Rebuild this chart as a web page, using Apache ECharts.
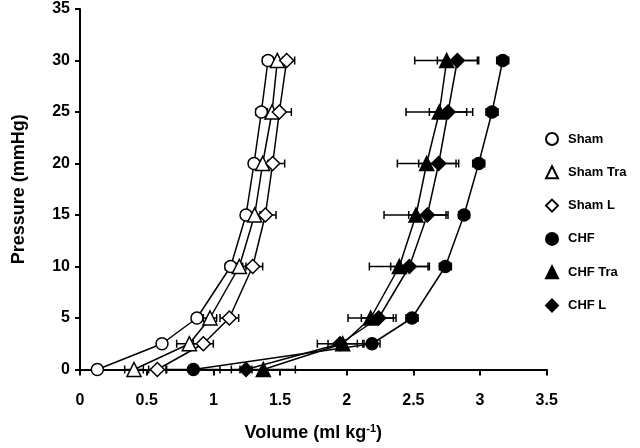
<!DOCTYPE html>
<html>
<head>
<meta charset="utf-8">
<script src="https://cdn.jsdelivr.net/npm/echarts@6/dist/echarts.min.js"></script>
<style>
html,body{margin:0;padding:0;background:#fff;}
#chart{width:640px;height:448px;}
</style>
</head>
<body>
<div id="chart"></div>
<script>
// Pressure levels (mmHg)
var pressure = [0, 2.5, 5, 10, 15, 20, 25, 30];
// Volume (ml kg-1) per series
var shamVol    = [0.13, 0.615, 0.877, 1.13, 1.245, 1.305, 1.36, 1.41];
var shamTraVol = [0.405, 0.82, 0.975, 1.195, 1.31, 1.37, 1.44, 1.48];
var shamLVol   = [0.58, 0.925, 1.12, 1.295, 1.39, 1.445, 1.495, 1.55];
var chfVol     = [0.85, 2.19, 2.49, 2.74, 2.88, 2.99, 3.09, 3.17];
var chfTraVol  = [1.375, 1.97, 2.18, 2.395, 2.52, 2.6, 2.695, 2.75];
var chfLVol    = [1.245, 1.95, 2.24, 2.47, 2.605, 2.69, 2.76, 2.83];
// SEM (horizontal error, ml kg-1)
var shamErr    = [0, 0, 0.03, 0.04, 0.035, 0.035, 0.04, 0.04];
var shamTraErr = [0.07, 0.095, 0.05, 0.05, 0.04, 0.04, 0.04, 0.04];
var shamLErr   = [0.065, 0.075, 0.07, 0.075, 0.08, 0.09, 0.09, 0.06];
var chfErr     = [0.2, 0.06, 0.045, 0.045, 0.04, 0.045, 0.045, 0.045];
var chfTraErr  = [0.24, 0.11, 0.17, 0.225, 0.24, 0.22, 0.25, 0.24];
var chfLErr    = [0.045, 0.17, 0.13, 0.14, 0.14, 0.15, 0.14, 0.15];

var seriesNames = ['Sham', 'Sham Tra', 'Sham L', 'CHF', 'CHF Tra', 'CHF L'];
var xTicks = [0, 0.5, 1, 1.5, 2, 2.5, 3, 3.5];

var groups = [
  {name: seriesNames[0], vol: shamVol, err: shamErr, symbol: 'circle', filled: false, size: 12},
  {name: seriesNames[1], vol: shamTraVol, err: shamTraErr, symbol: 'triangle', filled: false, size: 14},
  {name: seriesNames[2], vol: shamLVol, err: shamLErr, symbol: 'diamond', filled: false, size: 14},
  {name: seriesNames[3], vol: chfVol, err: chfErr, symbol: 'circle', filled: true, size: 12},
  {name: seriesNames[4], vol: chfTraVol, err: chfTraErr, symbol: 'triangle', filled: true, size: 14},
  {name: seriesNames[5], vol: chfLVol, err: chfLErr, symbol: 'diamond', filled: true, size: 14}
];

var FONT = '"Liberation Sans", Arial, Helvetica, sans-serif';

function errRender(params, api) {
  var x = api.value(0), y = api.value(1), e = api.value(2);
  if (!e) return null;
  var p1 = api.coord([x - e, y]);
  var p2 = api.coord([x + e, y]);
  var h = 4;
  var st = {stroke: '#000', lineWidth: 1.5};
  return {
    type: 'group',
    children: [
      {type: 'line', shape: {x1: p1[0], y1: p1[1], x2: p2[0], y2: p2[1]}, style: st},
      {type: 'line', shape: {x1: p1[0], y1: p1[1] - h, x2: p1[0], y2: p1[1] + h}, style: st},
      {type: 'line', shape: {x1: p2[0], y1: p2[1] - h, x2: p2[0], y2: p2[1] + h}, style: st}
    ]
  };
}

var series = [];
groups.forEach(function (g) {
  series.push({
    type: 'custom',
    renderItem: errRender,
    clip: false,
    silent: true,
    z: 1,
    encode: {x: 0, y: 1},
    data: g.vol.map(function (v, i) { return [v, pressure[i], g.err[i]]; })
  });
});
groups.forEach(function (g) {
  series.push({
    type: 'line',
    name: g.name,
    clip: false,
    z: 3,
    symbol: g.symbol,
    symbolSize: g.size,
    showAllSymbol: true,
    lineStyle: {color: '#000', width: 1.5},
    itemStyle: {color: g.filled ? '#000' : '#fff', borderColor: '#000', borderWidth: 1.5, opacity: 1},
    emphasis: {disabled: true},
    animation: false,
    data: g.vol.map(function (v, i) { return [v, pressure[i]]; })
  });
});

var chart = echarts.init(document.getElementById('chart'), null, {renderer: 'canvas'});
chart.setOption({
  animation: false,
  backgroundColor: '#fff',
  textStyle: {fontFamily: FONT},
  grid: {left: 80, right: 93.3, top: 9, bottom: 78.5, containLabel: false},
  xAxis: {
    type: 'value', min: 0, max: 3.5, interval: 0.5, offset: 12,
    name: 'Volume (ml kg{sup|-1})',
    nameLocation: 'middle', nameGap: 42,
    nameTextStyle: {
      fontFamily: FONT, fontWeight: 'bold', fontSize: 18, color: '#000',
      rich: {sup: {fontFamily: FONT, fontWeight: 'bold', fontSize: 11, color: '#000', verticalAlign: 'top', padding: [0, 0, 8, 0]}}
    },
    axisLine: {show: true, lineStyle: {color: '#000', width: 2}},
    axisTick: {show: true, length: 6, lineStyle: {color: '#000', width: 2}},
    axisLabel: {color: '#000', fontFamily: FONT, fontWeight: 'bold', fontSize: 16, margin: 11,
      formatter: function (v) { return xTicks.indexOf(v) >= 0 ? String(v) : ''; }},
    splitLine: {show: false}
  },
  yAxis: {
    type: 'value', min: 0, max: 35, interval: 5, offset: 4,
    name: 'Pressure (mmHg)',
    nameLocation: 'middle', nameGap: 48,
    nameTextStyle: {fontFamily: FONT, fontWeight: 'bold', fontSize: 18, color: '#000'},
    axisLine: {show: true, lineStyle: {color: '#000', width: 2}},
    axisTick: {show: true, length: 5, lineStyle: {color: '#000', width: 2}},
    axisLabel: {color: '#000', fontFamily: FONT, fontWeight: 'bold', fontSize: 16, margin: 6},
    splitLine: {show: false}
  },
  legend: {
    orient: 'vertical', left: 540, top: 127,
    itemWidth: 12, itemHeight: 12, itemGap: 19.3,
    selectedMode: false,
    textStyle: {fontFamily: FONT, fontWeight: 'bold', fontSize: 13, color: '#000', lineHeight: 14, padding: [0, 0, 0, 5]},
    data: [
      {name: 'Sham', icon: 'circle'},
      {name: 'Sham Tra', icon: 'triangle'},
      {name: 'Sham L', icon: 'diamond'},
      {name: 'CHF', icon: 'circle'},
      {name: 'CHF Tra', icon: 'triangle'},
      {name: 'CHF L', icon: 'diamond'}
    ]
  },
  series: series
});
</script>
</body>
</html>
